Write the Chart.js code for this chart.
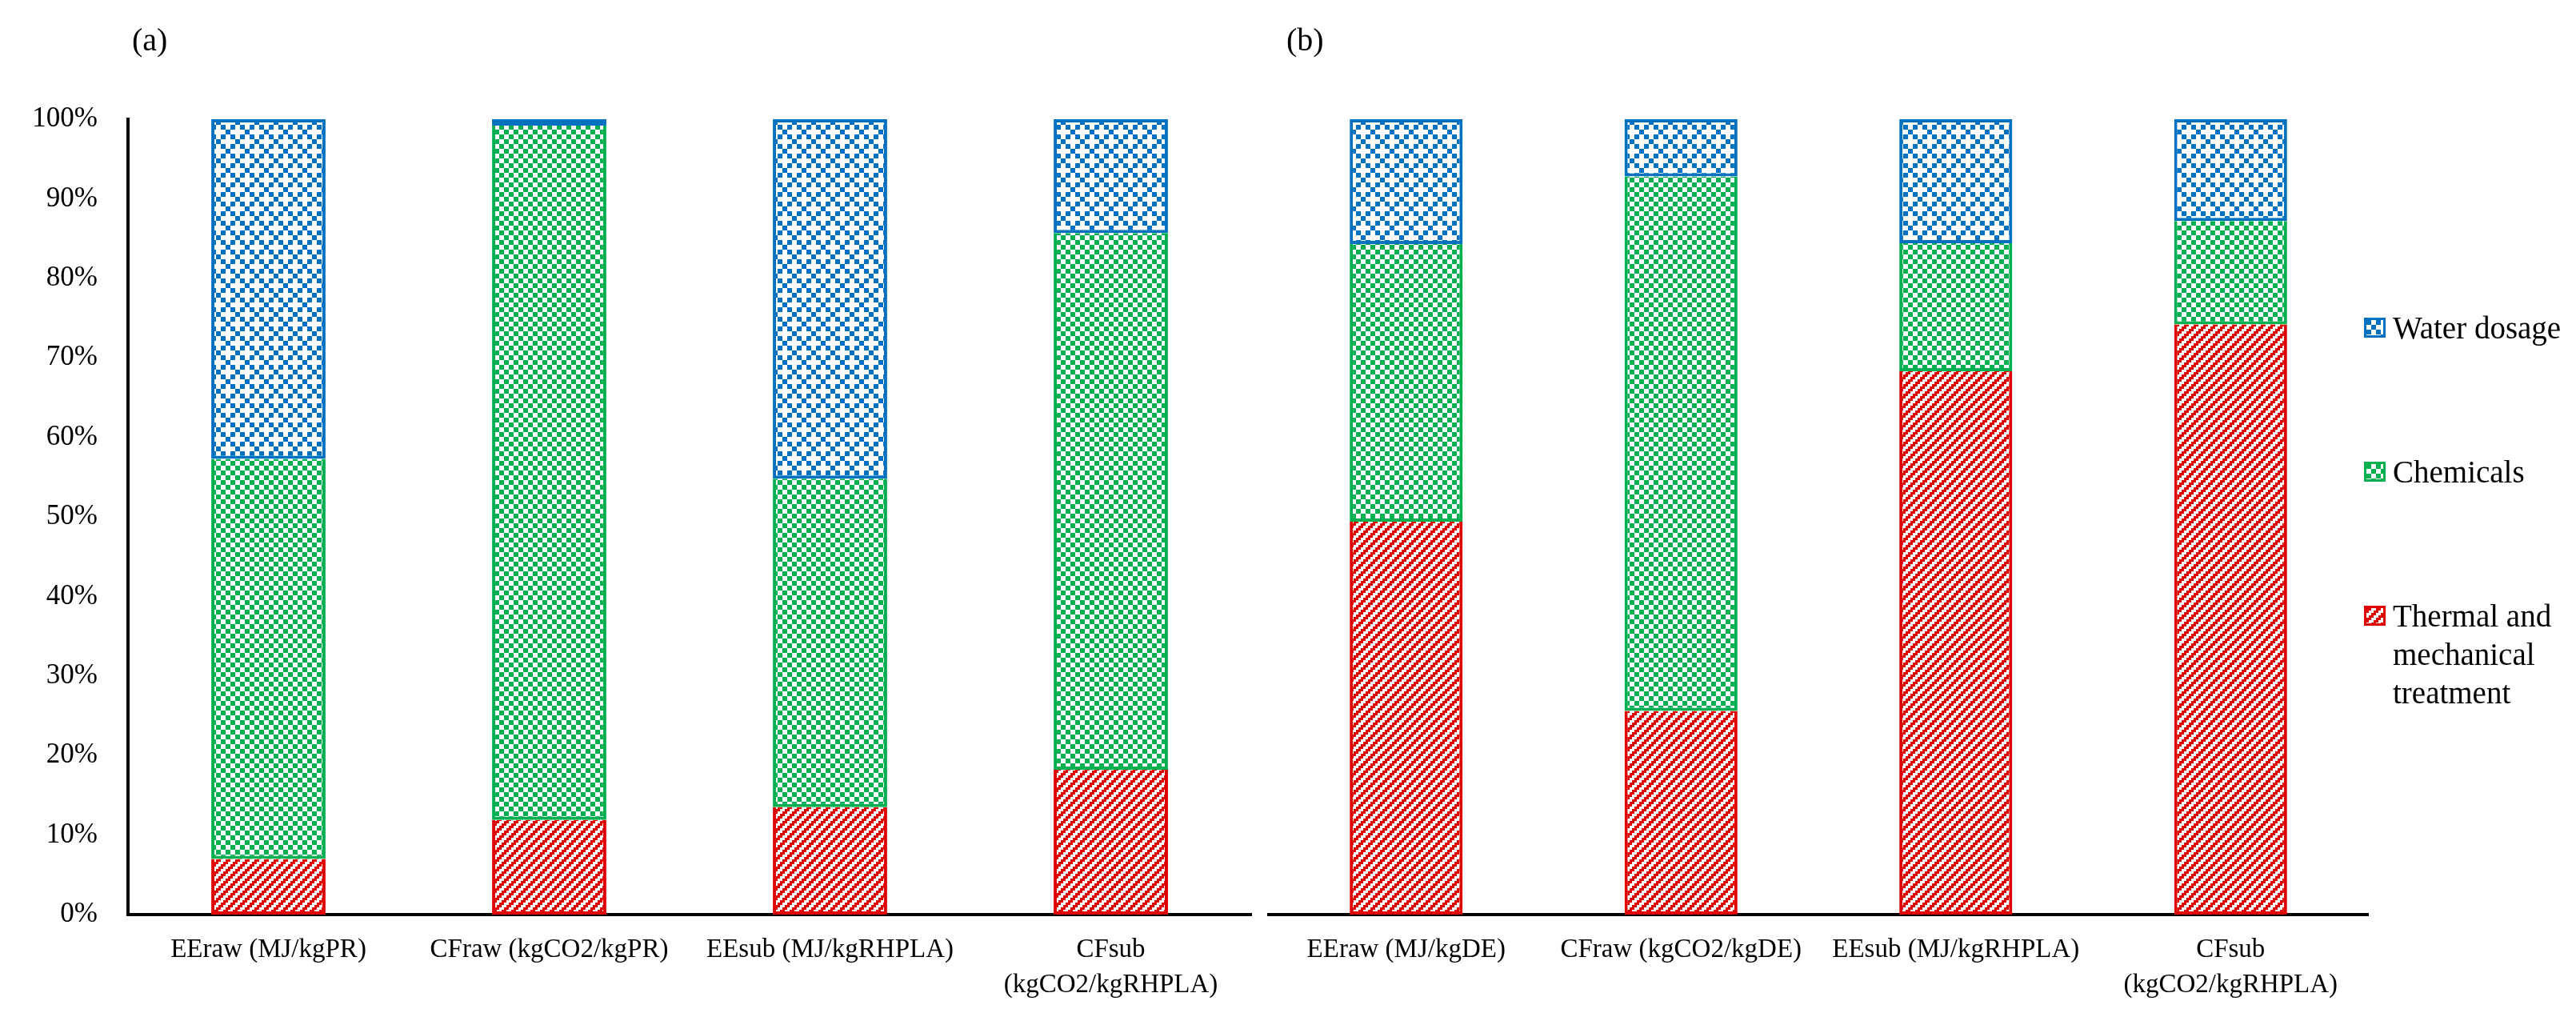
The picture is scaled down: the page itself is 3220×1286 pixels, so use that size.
<!DOCTYPE html>
<html>
<head>
<meta charset="utf-8">
<script src="https://cdn.jsdelivr.net/npm/chart.js@4/dist/chart.umd.min.js"></script>
<style>
  body { margin: 0; background: #fff; }
  #page { position: relative; width: 3220px; height: 1286px; font-family: "Liberation Serif", serif; color: #000; }
  .panel { position: absolute; top: 0; height: 1286px; }
  .tag { position: absolute; top: 26px; font-size: 40px; line-height: 48px; }
  #legend { position: absolute; left: 2955px; top: 0; }
  .item { position: absolute; left: 0; display: flex; align-items: flex-start; font-size: 39px; line-height: 48px; }
  .sw { width: 21px; height: 19px; border: 3px solid; margin: 11px 9px 0 0; flex: none; }
  .txt { width: 225px; }
</style>
</head>
<body>
<div id="page">
  <div class="panel" style="left:0;width:1575px"><canvas id="chartA" width="1575" height="1286"></canvas></div>
  <div class="panel" style="left:1575px;width:1645px"><canvas id="chartB" width="1645" height="1286"></canvas></div>
  <div class="tag" style="left:165px">(a)</div>
  <div class="tag" style="left:1608px">(b)</div>
  <div id="legend"></div>
</div>
<script>
// categories
const categoriesA = ["EEraw (MJ/kgPR)", "CFraw (kgCO2/kgPR)", "EEsub (MJ/kgRHPLA)", ["CFsub", "(kgCO2/kgRHPLA)"]];
const categoriesB = ["EEraw (MJ/kgDE)", "CFraw (kgCO2/kgDE)", "EEsub (MJ/kgRHPLA)", ["CFsub", "(kgCO2/kgRHPLA)"]];
const seriesNames = ["Thermal and mechanical treatment", "Chemicals", "Water dosage"];

// shares in %
const thermalA   = [7.0, 11.9, 13.5, 18.2];
const chemicalsA = [50.3, 87.3, 41.3, 67.5];
const waterA     = [42.7, 0.8, 45.2, 14.3];

const thermalB   = [49.4, 25.6, 68.3, 74.2];
const chemicalsB = [34.9, 67.2, 16.1, 13.0];
const waterB     = [15.7, 7.2, 15.6, 12.8];

const RED = "#e00000", GREEN = "#00b050", BLUE = "#0070c0";

function tile(size, draw) {
    let c = document.createElement("canvas");
    c.width = c.height = size;
    let g = c.getContext("2d");
    g.fillStyle = "#fff";
    g.fillRect(0, 0, size, size);
    draw(g);
    return c;
}

// excel-like fill patterns
const thermalTile = tile(12, g => {
    g.fillStyle = RED;
    for (let y = 0; y < 12; y += 3)
        for (let x = 0; x < 12; x += 3)
            if (((x + y) / 3) % 4 < 2) g.fillRect(x, y, 3, 3);
});
const chemTile = tile(12, g => {
    g.fillStyle = GREEN;
    g.fillRect(0, 0, 6, 6);
    g.fillRect(6, 6, 6, 6);
});
const waterTile = tile(24, g => {
    g.fillStyle = BLUE;
    [[0, 0], [12, 0], [6, 6], [0, 12], [12, 12], [18, 18]].forEach(p => g.fillRect(p[0], p[1], 6, 6));
});

const ctxA = document.getElementById("chartA").getContext("2d");
const ctxB = document.getElementById("chartB").getContext("2d");

function makeSets(ctx, th, ch, wa, bp) {
    let side = {top: 0, left: 4, right: 4, bottom: 4};
    return [
        {label: seriesNames[0], data: th, backgroundColor: ctx.createPattern(thermalTile, "repeat"),
         borderColor: RED, borderWidth: side, borderSkipped: false, barPercentage: bp, categoryPercentage: 1},
        {label: seriesNames[1], data: ch, backgroundColor: ctx.createPattern(chemTile, "repeat"),
         borderColor: GREEN, borderWidth: side, borderSkipped: false, barPercentage: bp, categoryPercentage: 1},
        {label: seriesNames[2], data: wa, backgroundColor: ctx.createPattern(waterTile, "repeat"),
         borderColor: BLUE, borderWidth: 4, borderSkipped: false, barPercentage: bp, categoryPercentage: 1}
    ];
}

const xAxis = {
    stacked: true,
    grid: {display: false, drawTicks: false},
    border: {display: true, color: "#000", width: 4},
    ticks: {color: "#000", font: {family: "Liberation Serif", size: 33, lineHeight: 1.33},
            padding: 22, maxRotation: 0, minRotation: 0, autoSkip: false},
    afterFit: s => { s.height = 143; }
};

new Chart(ctxA, {
    type: "bar",
    data: {labels: categoriesA, datasets: makeSets(ctxA, thermalA, chemicalsA, waterA, 0.407)},
    options: {
        responsive: false,
        animation: false,
        layout: {padding: {left: 0, right: 11, top: 149, bottom: 0}},
        plugins: {legend: {display: false}, tooltip: {enabled: false}},
        scales: {
            x: xAxis,
            y: {
                stacked: true, min: 0, max: 100,
                grid: {display: false, drawTicks: false},
                border: {display: true, color: "#000", width: 4},
                ticks: {stepSize: 10, color: "#000", padding: 38,
                        font: {family: "Liberation Serif", size: 35},
                        callback: v => v + "%"},
                afterFit: s => { s.width = 160; }
            }
        }
    }
});

const chartB = new Chart(ctxB, {
    type: "bar",
    data: {labels: categoriesB, datasets: makeSets(ctxB, thermalB, chemicalsB, waterB, 0.411)},
    options: {
        responsive: false,
        animation: false,
        layout: {padding: {left: 11, right: 260, top: 149, bottom: 0}},
        plugins: {legend: {display: false}, tooltip: {enabled: false}},
        scales: {
            x: xAxis,
            y: {display: false, stacked: true, min: 0, max: 100}
        }
    }
});

// legend on the right, top to bottom = top of stack first
const legend = document.getElementById("legend");
const tiles = [thermalTile, chemTile, waterTile];
const colors = [RED, GREEN, BLUE];
const tops = [746, 566, 386];
chartB.data.datasets.forEach((ds, i) => {
    let item = document.createElement("div");
    item.className = "item";
    item.style.top = tops[i] + "px";
    let sw = document.createElement("div");
    sw.className = "sw";
    sw.style.borderColor = colors[i];
    sw.style.background = "url(" + tiles[i].toDataURL() + ")";
    let t = document.createElement("div");
    t.className = "txt";
    t.textContent = ds.label;
    item.appendChild(sw);
    item.appendChild(t);
    legend.appendChild(item);
});
</script>
</body>
</html>
